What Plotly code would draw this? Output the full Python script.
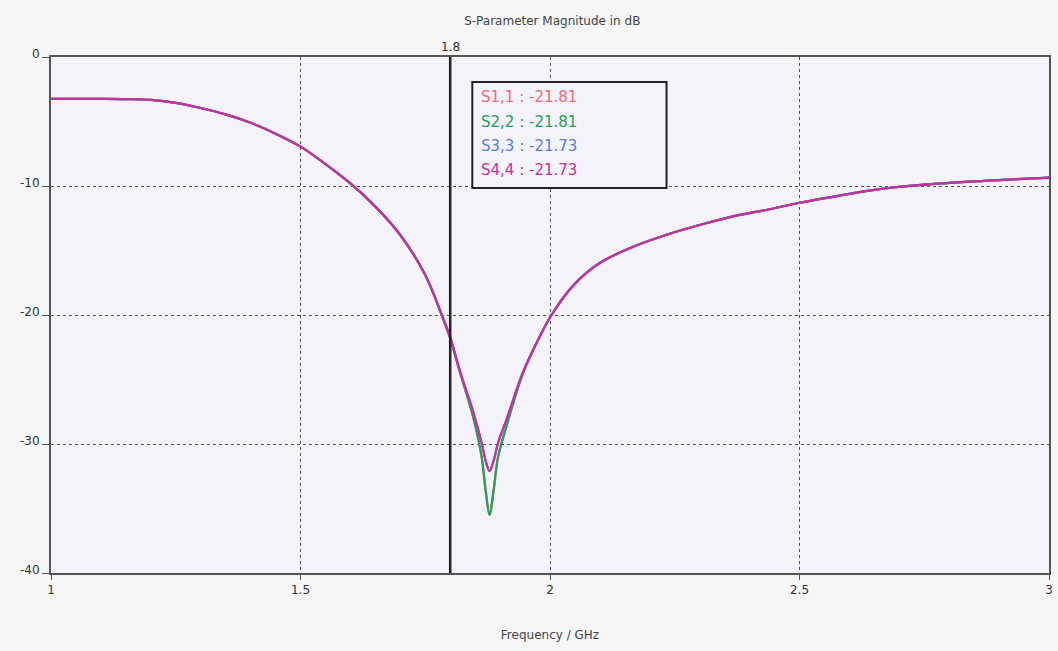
import plotly.graph_objects as go

# ---- data ----
freq_ghz = [1.00, 1.10, 1.15, 1.20, 1.25, 1.30, 1.35, 1.40, 1.45, 1.50,
            1.55, 1.60, 1.65, 1.70, 1.75, 1.783, 1.80, 1.82, 1.846, 1.863,
            1.871, 1.879, 1.887, 1.896, 1.913, 1.945, 1.979, 2.003, 2.04, 2.074,
            2.107, 2.174, 2.24, 2.307, 2.373, 2.44, 2.50, 2.573, 2.65, 2.75,
            2.87, 3.00]

s11_db = [-3.24, -3.25, -3.27, -3.33, -3.55, -3.95, -4.45, -5.1, -5.95, -6.95,
          -8.3, -9.8, -11.6, -13.8, -16.9, -20.0, -21.81, -24.5, -27.9, -31.0,
          -33.6, -35.5, -33.6, -31.0, -28.6, -24.6, -21.7, -20.0, -18.0, -16.7,
          -15.8, -14.6, -13.7, -12.95, -12.3, -11.8, -11.3, -10.8, -10.3, -9.9,
          -9.6, -9.35]
s22_db = list(s11_db)

s33_db = [-3.24, -3.25, -3.27, -3.33, -3.55, -3.95, -4.45, -5.1, -5.95, -6.95,
          -8.3, -9.8, -11.6, -13.8, -16.9, -20.0, -21.73, -24.4, -27.5, -29.9,
          -31.3, -32.1, -31.3, -29.9, -28.1, -24.5, -21.7, -20.0, -18.0, -16.7,
          -15.8, -14.6, -13.7, -12.95, -12.3, -11.8, -11.3, -10.8, -10.3, -9.9,
          -9.6, -9.35]
s44_db = list(s33_db)

series_names = ["S1,1", "S2,2", "S3,3", "S4,4"]
series_values = [s11_db, s22_db, s33_db, s44_db]
series_colors = ["#f06878", "#22a055", "#5a7ee0", "#c8309e"]
marker_freq = 1.8
marker_values = [-21.81, -21.81, -21.73, -21.73]

x_ticks = [1, 1.5, 2, 2.5, 3]
x_tick_labels = ["1", "1.5", "2", "2.5", "3"]
y_ticks = [0, -10, -20, -30, -40]
y_tick_labels = ["0", "-10", "-20", "-30", "-40"]

FONT = "DejaVu Sans"
W, H = 1058, 651
ML, MR, MT, MB = 51, 5, 57, 78
PW, PH = W - ML - MR, H - MT - MB


def px_to_paper_x(px):
    return (px - ML) / PW


def px_to_paper_y(py):
    return 1 - (py - MT) / PH


fig = go.Figure()
for name, vals, col in zip(series_names, series_values, series_colors):
    fig.add_trace(go.Scatter(x=freq_ghz, y=vals, mode="lines", name=name,
                             line=dict(color=col, width=2.2, shape="spline", smoothing=1.0),
                             showlegend=False))

# marker line
fig.add_shape(type="line", x0=marker_freq, x1=marker_freq, y0=0, y1=-40,
              xref="x", yref="y", line=dict(color="#222222", width=2.5))
fig.add_annotation(x=marker_freq, y=0, xref="x", yref="y", text=f"{marker_freq:g}",
                   showarrow=False, yanchor="bottom", yshift=1,
                   font=dict(family=FONT, size=12, color="#333333"))

# marker readout box
fig.add_shape(type="rect", xref="paper", yref="paper",
              x0=px_to_paper_x(474), x1=px_to_paper_x(669),
              y0=px_to_paper_y(188), y1=px_to_paper_y(82),
              line=dict(color="#222222", width=2), fillcolor="#f3f3f9", layer="above")
for i, (n, v, c) in enumerate(zip(series_names, marker_values, series_colors)):
    fig.add_annotation(xref="paper", yref="paper", x=px_to_paper_x(481),
                       y=px_to_paper_y(97 + 24.5 * i), xanchor="left", yanchor="middle",
                       text=f"{n} : {v:.2f}", showarrow=False,
                       font=dict(family=FONT, size=15, color=c))

fig.update_layout(
    width=W, height=H,
    margin=dict(l=ML, r=MR, t=MT, b=MB),
    paper_bgcolor="#f6f6f6",
    plot_bgcolor="#f3f3f9",
    title=dict(text="S-Parameter Magnitude in dB", x=0.522, xanchor="center", y=0.968,
               yanchor="middle", font=dict(family=FONT, size=12, color="#444444")),
    font=dict(family=FONT, size=12, color="#333333"),
)
fig.update_xaxes(range=[1, 3], tickvals=x_ticks, ticktext=x_tick_labels,
                 showgrid=True, gridcolor="#555555", griddash="dot", gridwidth=1,
                 showline=True, linecolor="#555555", linewidth=2, mirror=True,
                 ticks="outside", ticklen=5, tickcolor="#555555", zeroline=False,
                 title=dict(text="Frequency / GHz", standoff=34,
                            font=dict(family=FONT, size=12, color="#444444")))
fig.update_yaxes(range=[-40, 0], tickvals=y_ticks, ticktext=y_tick_labels,
                 showgrid=True, gridcolor="#555555", griddash="dot", gridwidth=1,
                 showline=True, linecolor="#555555", linewidth=2, mirror=True,
                 ticks="outside", ticklen=7, tickcolor="#555555", zeroline=False,
                 ticklabelshift=-3)

fig.write_html("out.html", config={"displayModeBar": False},
               post_script="document.body.style.margin='0px';"
                           "document.body.style.background='#f6f6f6';")
